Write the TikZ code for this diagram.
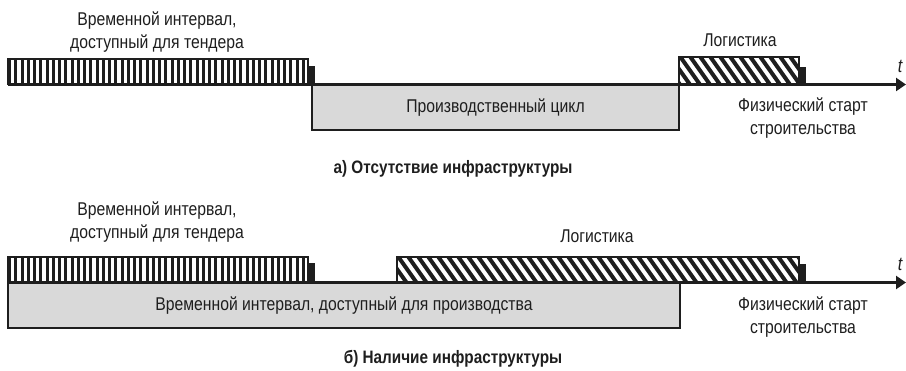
\documentclass[tikz,border=0pt]{standalone}
\usepackage{fontspec}
\setmainfont{Liberation Sans}[FakeStretch=0.85]
\usetikzlibrary{arrows.meta}
\definecolor{ink}{HTML}{1E1E1E}
\definecolor{boxgray}{HTML}{D9D9D9}
\begin{document}
\begin{tikzpicture}[x=1pt,y=-1pt,
  lbl/.style={font=\fontsize{18.5}{23}\selectfont, text=ink, align=center, inner sep=0pt},
  capt/.style={font=\bfseries\fontsize{18}{20}\selectfont, text=ink, inner sep=0pt},
  bar/.style={draw=ink, line width=1.6pt, anchor=north west, inner sep=0pt, outer sep=0pt},
  tender/.style={bar, fill=white, path picture={
      \foreach \k in {0,...,48}
        \fill[ink] ([xshift=\k*6.25pt]path picture bounding box.north west) rectangle ++(3.2pt,-30pt);}},
  logi/.style={bar, fill=white, path picture={
      \foreach \k in {-3,...,45}
        \draw[ink, line width=4pt] ([xshift=\k*10pt, yshift=2pt]path picture bounding box.north west) -- ++(22pt,-31pt);}},
  prod/.style={bar, fill=boxgray},
  tick/.style={fill=ink, anchor=north west, inner sep=0pt, outer sep=0pt, minimum width=7pt},
  axis/.style={draw=ink, line width=2.4pt, -{Triangle[length=10pt,width=13pt]}}
]
\useasboundingbox (0,0) rectangle (906,371);
% ---------- a) ----------
\node[tender, minimum width=300pt, minimum height=25.5pt] (tendA) at (8,59) {};
\node[prod, minimum width=367pt, minimum height=45.5pt] (prodA) at (312,84.5) {};
\node[logi, minimum width=120pt, minimum height=27.5pt] (logiA) at (679,57) {};
\node[tick, minimum height=18.5pt] (tickA1) at (308,66) {};
\node[tick, minimum height=17.5pt] (tickA2) at (799,67) {};
\coordinate (aStart) at (8,84.5);
\coordinate (aEnd) at (906,84.5);
\draw[axis] (aStart) -- (aEnd);
\node[lbl] (tendLblA) at (157,32) {Временной интервал,\\доступный для тендера};
\node[lbl] (prodLblA) at (prodA.center) {Производственный цикл};
\node[lbl] (logiLblA) at (740,40) {Логистика};
\node[lbl] (startLblA) at (803,118) {Физический старт\\строительства};
\node[lbl, font=\itshape\fontsize{19}{20}\selectfont] (tA) at (900,66) {t};
\node[capt] (captA) at (453,169) {а) Отсутствие инфраструктуры};
% ---------- b) ----------
\node[prod, minimum width=672pt, minimum height=45.5pt] (prodB) at (8,282.5) {};
\node[tender, minimum width=300pt, minimum height=25.5pt] (tendB) at (8,257) {};
\node[logi, minimum width=402pt, minimum height=25.5pt] (logiB) at (397,257) {};
\node[tick, minimum height=19.5pt] (tickB1) at (308,263) {};
\node[tick, minimum height=18.5pt] (tickB2) at (799,264) {};
\coordinate (bStart) at (8,282.5);
\coordinate (bEnd) at (906,282.5);
\draw[axis] (bStart) -- (bEnd);
\node[lbl] (tendLblB) at (157,222) {Временной интервал,\\доступный для тендера};
\node[lbl] (prodLblB) at (prodB.center) {Временной интервал, доступный для производства};
\node[lbl] (logiLblB) at (597,236) {Логистика};
\node[lbl] (startLblB) at (803,317) {Физический старт\\строительства};
\node[lbl, font=\itshape\fontsize{19}{20}\selectfont] (tB) at (900,264) {t};
\node[capt] (captB) at (453,359) {б) Наличие инфраструктуры};
\end{tikzpicture}
\end{document}
